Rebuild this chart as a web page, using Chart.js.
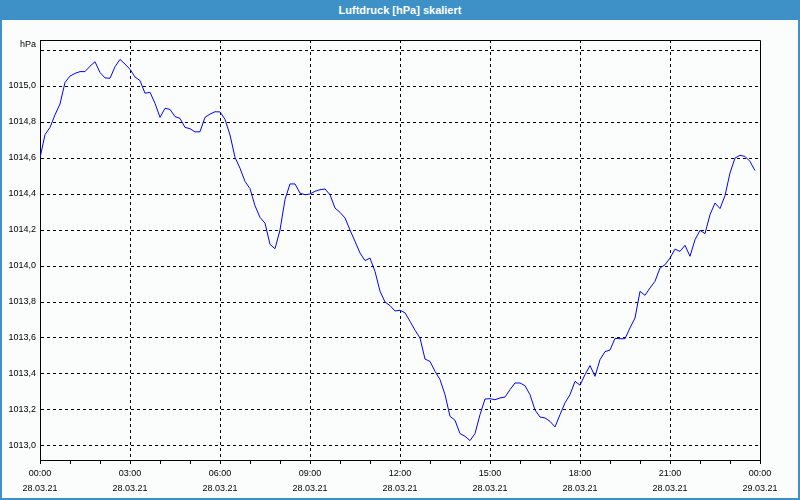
<!DOCTYPE html>
<html><head><meta charset="utf-8">
<script src="https://cdn.jsdelivr.net/npm/chart.js@4"></script>
<style>
html,body{margin:0;padding:0;background:#fbfdfd;}
#wrap{position:relative;width:800px;height:500px;overflow:hidden;background:#fbfdfd;}
#frame{position:absolute;left:0;top:0;width:796px;height:498px;border:2px solid #3d91c7;border-top:0;}
#title{position:absolute;left:0;top:0;width:800px;height:20px;background:#3d91c7;color:#fff;font:bold 11px "Liberation Sans",Arial,sans-serif;text-align:center;line-height:20px;}
canvas{position:absolute;left:0;top:0;}
</style></head>
<body>
<div id="wrap">
  <div id="frame"></div>
  <div id="title">Luftdruck [hPa] skaliert</div>
  <canvas id="c" width="800" height="500"></canvas>
</div>
<script>
// Luftdruck in hPa, one value every 10 minutes from 28.03.21 00:00
const pressure = [
  1014.600,1014.730,1014.770,1014.840,1014.900,1015.020,1015.055,1015.070,1015.080,1015.080,
  1015.110,1015.135,1015.075,1015.045,1015.043,1015.107,1015.148,1015.122,1015.093,1015.050,
  1015.030,1014.960,1014.965,1014.904,1014.826,1014.876,1014.870,1014.830,1014.820,1014.770,
  1014.763,1014.745,1014.746,1014.826,1014.844,1014.857,1014.856,1014.815,1014.728,1014.604,
  1014.543,1014.470,1014.430,1014.335,1014.270,1014.238,1014.120,1014.096,1014.200,1014.369,
  1014.456,1014.456,1014.405,1014.396,1014.400,1014.415,1014.424,1014.428,1014.396,1014.322,
  1014.298,1014.267,1014.200,1014.137,1014.072,1014.030,1014.044,1013.970,1013.860,1013.800,
  1013.780,1013.750,1013.754,1013.740,1013.693,1013.643,1013.600,1013.483,1013.470,1013.415,
  1013.369,1013.285,1013.165,1013.143,1013.069,1013.054,1013.030,1013.069,1013.174,1013.261,
  1013.263,1013.257,1013.267,1013.272,1013.313,1013.350,1013.350,1013.335,1013.285,1013.200,
  1013.161,1013.156,1013.137,1013.106,1013.174,1013.240,1013.285,1013.359,1013.338,1013.396,
  1013.447,1013.387,1013.480,1013.524,1013.533,1013.598,1013.596,1013.596,1013.656,1013.711,
  1013.859,1013.837,1013.878,1013.915,1013.989,1014.007,1014.044,1014.094,1014.081,1014.115,
  1014.054,1014.146,1014.198,1014.180,1014.285,1014.350,1014.319,1014.391,1014.517,1014.600,
  1014.615,1014.609,1014.581,1014.530
];
const sampleStepMinutes = 10;
const sampleMinutes = pressure.map((_, i) => i * sampleStepMinutes);

// axis ticks
const yTicks = [1013.0,1013.2,1013.4,1013.6,1013.8,1014.0,1014.2,1014.4,1014.6,1014.8,1015.0,1015.2];
const yUnit = 'hPa';
const xHourTicks = [0,1,2,3,4,5,6,7,8,9,10,11,12,13,14,15,16,17,18,19,20,21,22,23,24];
const xMajorTimes = ['00:00','03:00','06:00','09:00','12:00','15:00','18:00','21:00','00:00'];
const xMajorDates = ['28.03.21','28.03.21','28.03.21','28.03.21','28.03.21','28.03.21','28.03.21','28.03.21','29.03.21'];

const FONT = '"Liberation Sans", Arial, sans-serif';

const framePlugin = {
  id: 'frame',
  afterDraw(chart) {
    const {ctx, chartArea: a} = chart;
    ctx.save();
    ctx.strokeStyle = '#000';
    ctx.lineWidth = 1;
    ctx.beginPath();
    ctx.moveTo(a.left, a.top + 0.5);
    ctx.lineTo(a.right + 0.5, a.top + 0.5);
    ctx.lineTo(a.right + 0.5, a.bottom + 0.5);
    ctx.stroke();
    ctx.fillStyle = '#000';
    ctx.font = '9px ' + FONT;
    ctx.textAlign = 'right';
    ctx.textBaseline = 'middle';
    ctx.fillText(yUnit, a.left - 4, chart.scales.y.getPixelForValue(1015.2) - 5);
    ctx.restore();
  }
};

new Chart(document.getElementById('c'), {
  type: 'line',
  data: {
    datasets: [{
      data: pressure.map((v, i) => ({x: sampleMinutes[i], y: v})),
      borderColor: '#0000ff',
      borderWidth: 1,
      pointRadius: 0,
      tension: 0,
      fill: false
    }]
  },
  options: {
    responsive: false,
    animation: false,
    devicePixelRatio: 1,
    layout: {padding: {left: 0, right: 40, top: 40, bottom: 0}},
    plugins: {legend: {display: false}, tooltip: {enabled: false}, title: {display: false}},
    scales: {
      x: {
        type: 'linear',
        min: 0,
        max: 1440,
        afterFit(s) { s.height = 40; },
        afterBuildTicks(s) { s.ticks = xHourTicks.map(h => ({value: h * 60})); },
        border: {display: true, color: '#000', width: 1, dash: [3, 3]},
        grid: {
          color: (c) => {
            const v = c.tick ? c.tick.value : -1;
            return (v % 180 === 0 && v > 0 && v < 1440) ? '#000' : 'rgba(0,0,0,0)';
          },
          lineWidth: 1,
          tickColor: '#000',
          tickLength: 4,
          drawTicks: true
        },
        ticks: {
          autoSkip: false,
          maxRotation: 0,
          padding: 2,
          color: '#000',
          font: {family: FONT, size: 9, lineHeight: 1.65},
          callback: (v) => {
            if (v % 180 !== 0) return '';
            const i = v / 180;
            return [xMajorTimes[i], xMajorDates[i]];
          }
        }
      },
      y: {
        type: 'linear',
        min: 1012.9222,
        max: 1015.2556,
        afterFit(s) { s.width = 40; },
        afterBuildTicks(s) { s.ticks = yTicks.map(v => ({value: v})); },
        border: {display: true, color: '#000', width: 1, dash: [3, 3]},
        grid: {color: '#000', lineWidth: 1, drawTicks: false},
        ticks: {
          padding: 4,
          color: '#000',
          font: {family: FONT, size: 9},
          callback: (v) => (Math.abs(v - 1015.2) < 1e-6 ? '' : v.toFixed(1).replace('.', ','))
        }
      }
    }
  },
  plugins: [framePlugin]
});
</script>
</body></html>
